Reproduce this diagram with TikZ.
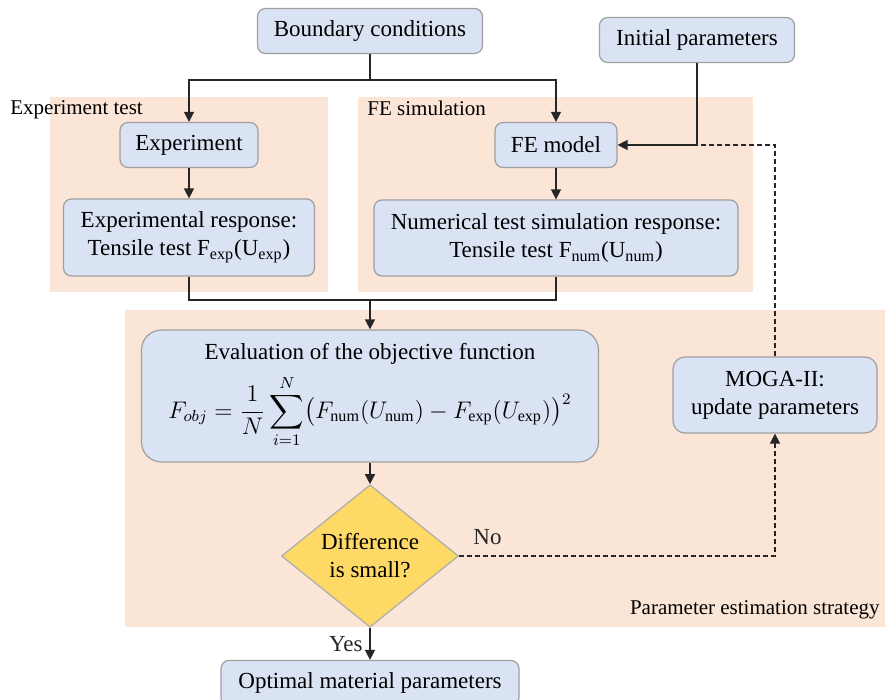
\documentclass[tikz,border=0pt]{standalone}
\usepackage{amsmath}
\usepackage{fontspec}
\setmainfont{Liberation Serif}
\usepackage{xcolor}
\usetikzlibrary{arrows.meta,positioning,shapes.geometric}

\definecolor{boxblue}{HTML}{DAE3F3}
\definecolor{panelpeach}{HTML}{FBE5D6}
\definecolor{decgold}{HTML}{FFD966}

\begin{document}
\begin{tikzpicture}[
  x=0.5pt, y=-0.5pt,
  font=\fontsize{11.5}{14}\selectfont,
  box/.style={rectangle, rounded corners=4pt, draw=gray!75, fill=boxblue, align=center, inner sep=2pt, line width=0.6pt},
  panel/.style={fill=panelpeach},
  tag/.style={font=\fontsize{10.5}{12}\selectfont, inner sep=0pt},
  decision/.style={diamond, draw=gray!65, fill=decgold, align=center, inner sep=0pt, minimum width=88.5pt, minimum height=59pt, line width=0.6pt},
  wire/.style={line width=0.7pt, black!85},
  arr/.style={wire, -{Triangle[length=5pt,width=5pt]}},
  retry/.style={dash pattern=on 2.5pt off 1.5pt}
]
  \useasboundingbox (0,0) rectangle (885,700);

  % panels
  \fill[panel] (50,97) rectangle (328,292);
  \fill[panel] (358,97) rectangle (753,292);
  \fill[panel] (125,310) rectangle (885,627);
  \node[tag, anchor=west] (exptag) at (10,110) {Experiment test};
  \node[tag, anchor=west] (simtag) at (367,108) {FE simulation};
  \node[tag, anchor=east] (esttag) at (880,610) {Parameter estimation strategy};

  \node[box, minimum width=112.5pt, minimum height=22.5pt] (bc) at (370,31) {Boundary conditions};
  \node[box, minimum width=97.5pt, minimum height=22.5pt] (ip) at (697,40) {Initial parameters};

  \node[box, minimum width=69pt, minimum height=22.5pt] (exp) at (189,145) {Experiment};
  \node[box, minimum width=125.5pt, minimum height=38.5pt] (expres) at (189,237.5) {Experimental response:\\Tensile test F\textsubscript{exp}(U\textsubscript{exp})};

  \node[box, minimum width=61pt, minimum height=22.5pt] (fem) at (556,145) {FE model};
  \node[box, minimum width=182pt, minimum height=38pt] (numres) at (556,238) {Numerical test simulation response:\\Tensile test F\textsubscript{num}(U\textsubscript{num})};

  \node[box, rounded corners=10pt, minimum width=228.5pt, minimum height=66pt] (eval) at (370,396) {Evaluation of the objective function\\[4pt]
    $\displaystyle F_{obj}=\frac{1}{N}\sum_{i=1}^{N}\bigl(F_{\mathrm{num}}(U_{\mathrm{num}})-F_{\mathrm{exp}}(U_{\mathrm{exp}})\bigr)^2$};
  \node[box, rounded corners=6pt, minimum width=102pt, minimum height=38pt] (moga) at (775,395) {MOGA-II:\\update parameters};

  \node[decision] (diff) at (370,556) {Difference\\is small?};
  \node[box, minimum width=149pt, minimum height=22.5pt] (opt) at (370,683) {Optimal material parameters};

  \coordinate (split) at (370,80);
  \coordinate (merge) at (370,300);
  \coordinate (ipjoin) at (697,145);

  \draw[wire] (bc) -- (split);
  \draw[arr] (split) -| (exp);
  \draw[arr] (split) -| (fem);
  \draw[arr] (exp) -- (expres);
  \draw[arr] (fem) -- (numres);
  \draw[wire] (expres) |- (merge);
  \draw[wire] (numres) |- (merge);
  \draw[arr] (merge) -- (eval);
  \draw[wire] (ip) -- (ipjoin);
  \draw[arr] (ipjoin) -- (fem);
  \draw[arr] (eval) -- (diff);
  \draw[arr] (diff) -- node[left] (yes) {Yes} (opt);
  \draw[arr, retry] (diff) -| node[pos=0.045, above=2pt] (no) {No} (moga);
  \draw[wire, retry] (moga) |- (ipjoin);
\end{tikzpicture}
\end{document}
